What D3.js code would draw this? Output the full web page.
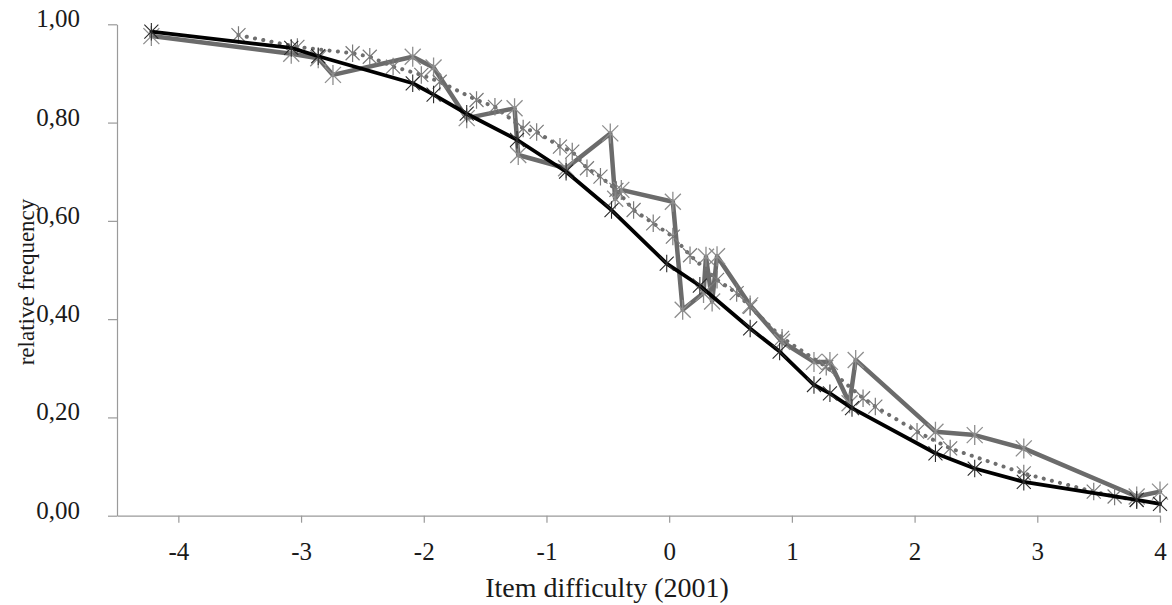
<!DOCTYPE html>
<html>
<head>
<meta charset="utf-8">
<script src="https://cdn.jsdelivr.net/npm/d3@7"></script>
<style>
  html, body { margin: 0; padding: 0; background: #fff; }
  svg text { font-family: "Liberation Serif", "Times New Roman", serif; fill: #1a1a1a; }
</style>
</head>
<body>
<div id="chart"></div>
<script>
// ---- data: [item difficulty, relative frequency] ----
const modelSeries = [
  [-4.22, 0.985], [-3.08, 0.952], [-2.86, 0.935], [-2.09, 0.880], [-1.92, 0.857],
  [-1.65, 0.818], [-1.24, 0.765], [-0.84, 0.700], [-0.47, 0.622], [-0.02, 0.513],
  [0.25, 0.468], [0.66, 0.381], [0.90, 0.334], [1.18, 0.266], [1.31, 0.249],
  [1.49, 0.219], [2.17, 0.127], [2.49, 0.096], [2.89, 0.069], [3.81, 0.032], [4.00, 0.024]
];
const observedSeries = [
  [-4.22, 0.976], [-3.08, 0.940], [-2.86, 0.931], [-2.74, 0.897], [-2.09, 0.934],
  [-1.92, 0.912], [-1.65, 0.809], [-1.26, 0.829], [-1.23, 0.734], [-0.84, 0.707],
  [-0.48, 0.778], [-0.44, 0.645], [-0.39, 0.663], [0.03, 0.639], [0.11, 0.419],
  [0.28, 0.453], [0.30, 0.527], [0.35, 0.436], [0.39, 0.528], [0.66, 0.428],
  [0.92, 0.354], [1.18, 0.313], [1.31, 0.313], [1.47, 0.229], [1.52, 0.317],
  [2.17, 0.171], [2.49, 0.164], [2.89, 0.137], [3.81, 0.039], [4.00, 0.049]
];
const dottedSeries = [
  [-3.51, 0.978], [-3.03, 0.954], [-2.58, 0.941], [-2.44, 0.934], [-2.25, 0.914],
  [-2.02, 0.897], [-1.87, 0.883], [-1.57, 0.846], [-1.42, 0.832], [-1.19, 0.788],
  [-1.08, 0.781], [-0.89, 0.751], [-0.79, 0.741], [-0.67, 0.707], [-0.56, 0.690],
  [-0.43, 0.663], [-0.29, 0.622], [-0.13, 0.595], [0.03, 0.568], [0.17, 0.530],
  [0.39, 0.480], [0.55, 0.453], [0.66, 0.425], [0.92, 0.362], [1.28, 0.303],
  [1.58, 0.239], [1.68, 0.222], [2.02, 0.171], [2.29, 0.137], [2.89, 0.086],
  [3.46, 0.049], [3.63, 0.039], [3.81, 0.032]
];
const xTicks = [-4, -3, -2, -1, 0, 1, 2, 3, 4];
const yTicks = [0, 0.2, 0.4, 0.6, 0.8, 1.0];

const width = 1172, height = 605;
const serif = "'Liberation Serif', 'Times New Roman', serif";

const svg = d3.select("#chart").append("svg")
  .attr("width", width)
  .attr("height", height);

const x = d3.scaleLinear().domain([-4.5, 4]).range([117, 1160]);
const y = d3.scaleLinear().domain([0, 1]).range([515.7, 24.3]);

// axes
const axisColor = "#9a9a9a";

const yAxis = svg.append("g")
  .attr("transform", `translate(${x(-4.5)},0)`)
  .call(d3.axisLeft(y).tickValues(yTicks).tickSize(9).tickSizeOuter(0).tickPadding(28)
    .tickFormat(d => d3.format(".2f")(d).replace(".", ",")));
yAxis.attr("font-family", serif);
yAxis.selectAll("text").attr("font-size", "25px").attr("dy", "0.1em");

const xAxis = svg.append("g")
  .attr("transform", `translate(0,${y(0)})`)
  .call(d3.axisBottom(x).tickValues(xTicks).tickSize(7).tickSizeOuter(0)
    .tickFormat(d => String(d)));
xAxis.attr("font-family", serif);
xAxis.selectAll("text").attr("font-size", "25px").attr("y", 44.3).attr("dy", null);

svg.selectAll(".domain, .tick line").attr("stroke", axisColor).attr("stroke-width", 1.2);
svg.selectAll(".tick text").style("font-family", serif);

// axis titles
svg.append("text")
  .attr("x", 607)
  .attr("y", 597)
  .attr("text-anchor", "middle")
  .attr("font-size", "28px")
  .text("Item difficulty (2001)");

svg.append("text")
  .attr("transform", "translate(34,282) rotate(-90)")
  .attr("text-anchor", "middle")
  .attr("font-size", "23px")
  .text("relative frequency");

// series
const line = d3.line().x(d => x(d[0])).y(d => y(d[1]));

// star marker (x plus vertical stroke), like the spreadsheet "*" marker
function star(r) {
  return `M${-r},${-r}L${r},${r}M${-r},${r}L${r},${-r}M0,${-r * 1.25}L0,${r * 1.25}`;
}

function drawSeries(data, opts) {
  const g = svg.append("g");
  g.append("path")
    .datum(data)
    .attr("d", line)
    .attr("fill", "none")
    .attr("stroke", opts.color)
    .attr("stroke-width", opts.width)
    .attr("stroke-linejoin", "round")
    .attr("stroke-linecap", "round")
    .attr("stroke-dasharray", opts.dash || null);
  g.selectAll("path.mark")
    .data(data)
    .enter()
    .append("path")
    .attr("class", "mark")
    .attr("transform", d => `translate(${x(d[0])},${y(d[1])})`)
    .attr("d", star(opts.r))
    .attr("fill", "none")
    .attr("stroke", opts.markColor)
    .attr("stroke-width", opts.markWidth);
}

drawSeries(observedSeries, { color: "#6b6b6b", width: 4.5, markColor: "#8e8e8e", r: 8, markWidth: 1.3 });
drawSeries(dottedSeries, { color: "#6e6e6e", width: 4, dash: "0.1 8.3", markColor: "#7a7a7a", r: 7, markWidth: 1.2 });
drawSeries(modelSeries, { color: "#000", width: 3.8, markColor: "#2a2a2a", r: 7, markWidth: 1.1 });
</script>
</body>
</html>
